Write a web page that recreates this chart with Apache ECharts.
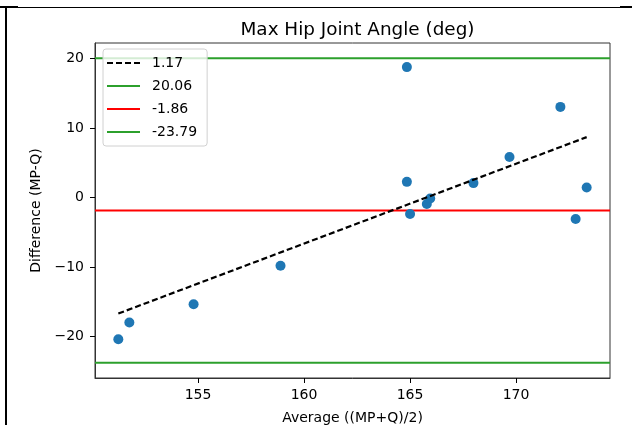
<!DOCTYPE html>
<html>
<head>
<meta charset="utf-8">
<script src="https://cdn.jsdelivr.net/npm/echarts@6/dist/echarts.min.js"></script>
<style>
html,body{margin:0;padding:0;background:#fff;}
#chart{width:632px;height:425px;position:absolute;left:0;top:0;}
.b{position:absolute;background:#000;}
</style>
</head>
<body>
<div id="chart"></div>
<div class="b" style="left:0;top:6px;width:18px;height:2px;"></div>
<div class="b" style="left:18px;top:7px;width:602px;height:1px;"></div>
<div class="b" style="left:620px;top:6px;width:12px;height:2px;"></div>
<div class="b" style="left:5px;top:7px;width:2px;height:418px;"></div>
<script>
// Data
const avgValues  = [151.24, 151.76, 154.79, 158.89, 164.85, 164.85, 165.00, 165.79, 165.95, 167.99, 169.69, 172.09, 172.81, 173.33];
const diffValues = [-20.40, -17.98, -15.36, -9.81, 18.78, 2.26, -2.36, -0.93, -0.13, 2.08, 5.85, 13.05, -3.08, 1.45];
const fitX = [151.24, 173.33];
const fitY = [-16.7, 8.7];
const fitLabel = '1.17';
const upperLoA = 20.06;
const meanDiff = -1.86;
const lowerLoA = -23.79;
const xLimits = [150.14, 174.43];
const yLimits = [-25.98, 22.25];
const xTicks = [155, 160, 165, 170];
const yTicks = [-20, -10, 0, 10, 20];
const titleText = 'Max Hip Joint Angle (deg)';
const xName = 'Average ((MP+Q)/2)';
const yName = 'Difference (MP-Q)';

const font = 'DejaVu Sans';
const minus = v => String(v).replace('-', '\u2212');
const hline = y => [[xLimits[0], y], [xLimits[1], y]];
const solidIcon = 'path://M0,0H33V2H0Z';
const dashIcon = 'path://M0,0H6V2H0Z M9,0H15V2H9Z M18,0H24V2H18Z M27,0H33V2H27Z';

const chart = echarts.init(document.getElementById('chart'), null, {renderer: 'canvas'});
chart.setOption({
  animation: false,
  backgroundColor: 'transparent',
  title: {
    text: titleText, left: 352.5, top: 16, textAlign: 'center',
    textStyle: {fontFamily: font, fontSize: 18.4, fontWeight: 'normal', color: '#000'}
  },
  grid: {left: 95, top: 43, right: 22, bottom: 47, outerBoundsMode: 'none', containLabel: false,
         show: true, borderColor: '#333', borderWidth: 1, backgroundColor: 'transparent'},
  legend: {
    orient: 'vertical', left: 103, top: 49,
    data: [
      {name: fitLabel, icon: dashIcon},
      {name: String(upperLoA), icon: solidIcon},
      {name: String(meanDiff), icon: solidIcon},
      {name: String(lowerLoA), icon: solidIcon}
    ],
    itemWidth: 33, itemHeight: 2.5, itemGap: 7,
    padding: [6, 10, 6, 4],
    backgroundColor: 'rgba(255,255,255,0.8)',
    borderColor: '#d0d0d0', borderWidth: 1, borderRadius: 3,
    textStyle: {fontFamily: font, fontSize: 14, lineHeight: 16, color: '#000', padding: [0, 0, 0, 7]}
  },
  xAxis: {
    type: 'value', min: xLimits[0], max: xLimits[1],
    name: xName, nameLocation: 'middle', nameGap: 33,
    nameTextStyle: {fontFamily: font, fontSize: 14, color: '#000'},
    axisLine: {show: true, onZero: false, lineStyle: {color: '#333', width: 1}},
    splitLine: {show: false},
    axisTick: {show: true, inside: false, customValues: xTicks, length: 5, lineStyle: {color: '#000', width: 1}},
    axisLabel: {customValues: xTicks, margin: 10, fontFamily: font, fontSize: 14, color: '#000', formatter: minus}
  },
  yAxis: {
    type: 'value', min: yLimits[0], max: yLimits[1],
    name: yName, nameLocation: 'middle', nameGap: 52,
    nameTextStyle: {fontFamily: font, fontSize: 14, color: '#000'},
    axisLine: {show: true, onZero: false, lineStyle: {color: '#333', width: 1}},
    splitLine: {show: false},
    axisTick: {show: true, inside: false, customValues: yTicks, length: 5, lineStyle: {color: '#000', width: 1}},
    axisLabel: {customValues: yTicks, margin: 11, fontFamily: font, fontSize: 14, color: '#000', formatter: minus}
  },
  series: [
    {
      name: 'points', type: 'scatter', symbolSize: 10, z: 3,
      itemStyle: {color: '#1f77b4', opacity: 1},
      data: avgValues.map((x, i) => [x, diffValues[i]])
    },
    {
      name: fitLabel, type: 'line', symbol: 'none', z: 4,
      lineStyle: {color: '#000', width: 2.2, type: [6, 3]},
      itemStyle: {color: '#000'},
      data: fitX.map((x, i) => [x, fitY[i]])
    },
    {
      name: String(upperLoA), type: 'line', symbol: 'none', z: 2,
      lineStyle: {color: '#2ca02c', width: 2}, itemStyle: {color: '#2ca02c'},
      data: hline(upperLoA)
    },
    {
      name: String(meanDiff), type: 'line', symbol: 'none', z: 2,
      lineStyle: {color: '#ff0000', width: 2}, itemStyle: {color: '#ff0000'},
      data: hline(meanDiff)
    },
    {
      name: String(lowerLoA), type: 'line', symbol: 'none', z: 2,
      lineStyle: {color: '#2ca02c', width: 2}, itemStyle: {color: '#2ca02c'},
      data: hline(lowerLoA)
    }
  ]
});
</script>
</body>
</html>
